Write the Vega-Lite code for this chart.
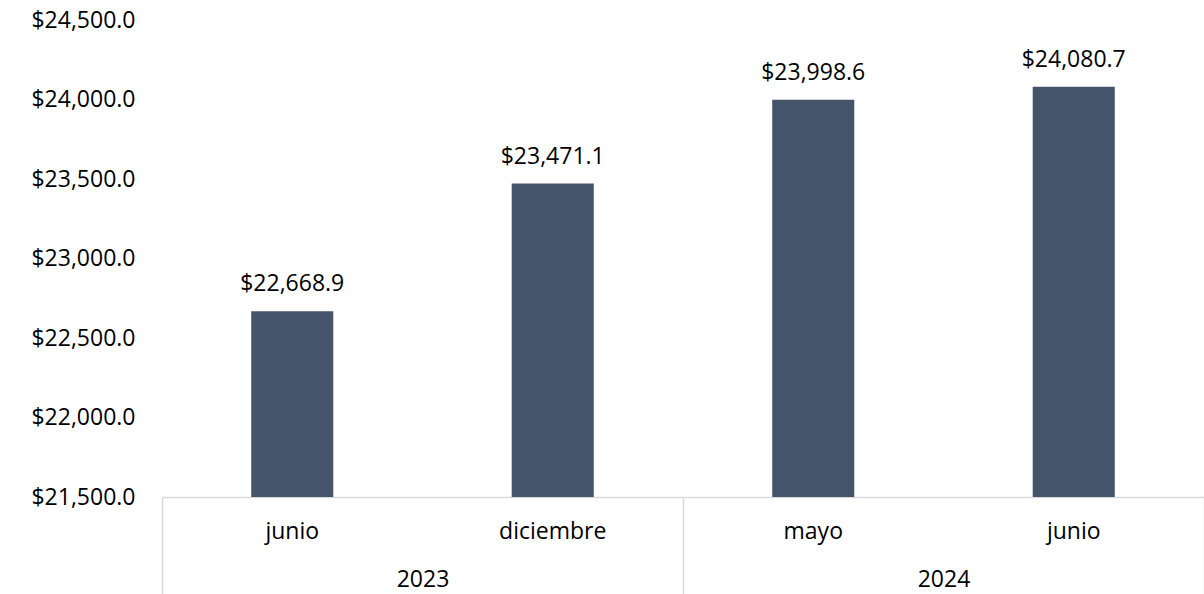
{
  "$schema": "https://vega.github.io/schema/vega-lite/v6.json",
  "width": 1042,
  "height": 477,
  "autosize": {"type": "none"},
  "padding": {"left": 162, "top": 20, "right": 0, "bottom": 97},
  "background": "white",
  "config": {"view": {"stroke": null}, "font": "Open Sans", "axis": {"labelFont": "Open Sans"}, "text": {"font": "Open Sans"}},
  "data": {
    "values": [
      {"mes": "junio", "anio": "2023", "key": "junio 2023", "valor": 22668.9},
      {"mes": "diciembre", "anio": "2023", "key": "diciembre 2023", "valor": 23471.1},
      {"mes": "mayo", "anio": "2024", "key": "mayo 2024", "valor": 23998.6},
      {"mes": "junio", "anio": "2024", "key": "junio 2024", "valor": 24080.7}
    ]
  },
  "layer": [
    {
      "layer": [
        {
          "mark": {"type": "bar", "color": "#44546A", "clip": true},
          "encoding": {
            "x": {
              "field": "key", "type": "nominal", "sort": null,
              "scale": {"paddingInner": 0.685, "paddingOuter": 0.3425},
              "axis": {"title": null, "orient": "bottom", "ticks": false, "domainColor": "#d9d9d9", "domainWidth": 1.5,
                "labelExpr": "split(datum.label, ' ')[0]", "labelFontSize": 23, "labelColor": "#000000",
                "labelPadding": 34, "labelBaseline": "middle", "labelAngle": 0, "labelOverlap": false}
            },
            "y": {
              "field": "valor", "type": "quantitative",
              "scale": {"domain": [21500, 24500], "nice": false, "zero": false},
              "axis": {"title": null, "values": [21500, 22000, 22500, 23000, 23500, 24000, 24500], "format": "$,.1f",
                "grid": false, "ticks": false, "domain": false, "labelPadding": 27, "labelFontSize": 23, "labelColor": "#000000"}
            }
          }
        },
        {
          "mark": {"type": "text", "dy": -20, "baseline": "alphabetic", "fontSize": 23, "color": "#000000"},
          "encoding": {
            "x": {"field": "key", "type": "nominal", "sort": null},
            "y": {"field": "valor", "type": "quantitative"},
            "text": {"field": "valor", "type": "quantitative", "format": "$,.1f"}
          }
        }
      ]
    },
    {
      "mark": {"type": "point", "opacity": 0},
      "encoding": {
        "x": {
          "field": "anio", "type": "nominal", "sort": null,
          "scale": {"type": "band", "paddingInner": 0, "paddingOuter": 0},
          "axis": {"title": null, "orient": "bottom", "domain": false, "ticks": true, "tickBand": "extent", "tickSize": 97,
            "tickColor": "#d9d9d9", "tickWidth": 1.5, "labelPadding": -15, "labelBaseline": "middle",
            "labelFontSize": 23, "labelColor": "#000000", "labelAngle": 0}
        },
        "y": {"field": "valor", "type": "quantitative"}
      }
    }
  ],
  "resolve": {"scale": {"x": "independent"}, "axis": {"x": "independent"}}
}
